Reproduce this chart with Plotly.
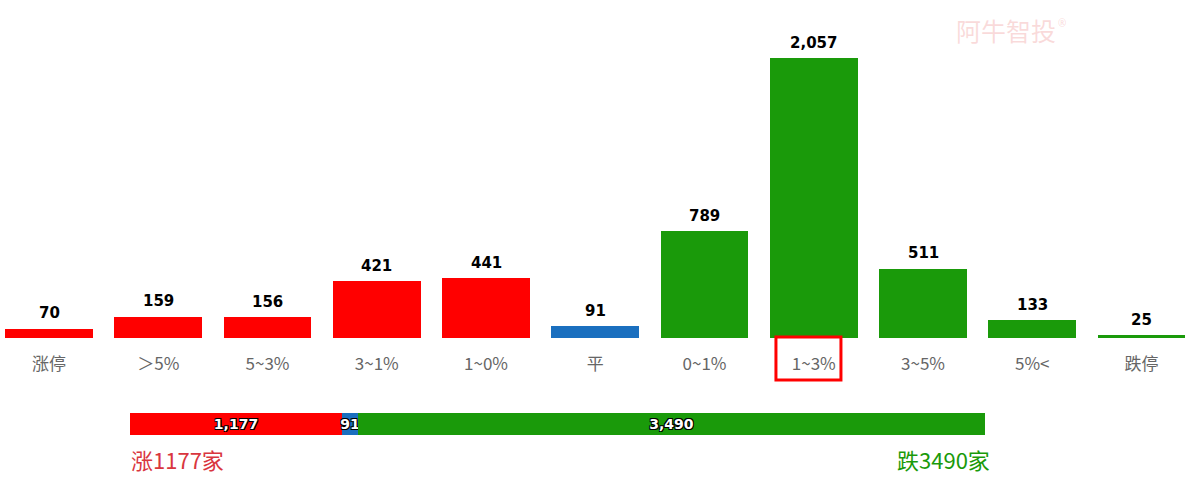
import plotly.graph_objects as go

categories = ["涨停", "＞5%", "5~3%", "3~1%", "1~0%", "平", "0~1%", "1~3%", "3~5%", "5%<", "跌停"]
counts = [70, 159, 156, 421, 441, 91, 789, 2057, 511, 133, 25]
bar_colors = ["#ff0000"] * 5 + ["#1a6fbf"] + ["#1a9a0a"] * 5

summary_names = ["涨", "平", "跌"]
summary_values = [1177, 91, 3490]
summary_colors = ["#ff0000", "#1a6fbf", "#1a9a0a"]

up_text = "涨1177家"
down_text = "跌3490家"
highlight_index = 7

W, H = 1187, 477
px_per_cat = 109.25
x0 = -49 / px_per_cat
x1 = x0 + W / px_per_cat

fig = go.Figure()
fig.add_trace(go.Bar(
    x=list(range(len(categories))), y=counts, marker_color=bar_colors,
    marker_line_width=0, width=0.805, xaxis="x", yaxis="y", showlegend=False,
    hoverinfo="skip",
))

outline = "-1px -1px 0 #000, 1px -1px 0 #000, -1px 1px 0 #000, 1px 1px 0 #000"
total = sum(summary_values)
for name, v, c in zip(summary_names, summary_values, summary_colors):
    fig.add_trace(go.Bar(
        x=[v], y=[0], orientation="h", marker_color=c, marker_line_width=0,
        xaxis="x2", yaxis="y2", showlegend=False, width=1,
        text=[f"{v:,}"], textposition="inside", insidetextanchor="middle",
        textangle=0, constraintext="none",
        textfont=dict(family="DejaVu Sans", size=14, color="white", weight="bold", shadow=outline),
        hoverinfo="skip", name=name,
    ))

for i, v in enumerate(counts):
    fig.add_annotation(
        x=i, y=v, xref="x", yref="y", text=f"<b>{v:,}</b>", showarrow=False,
        yanchor="bottom", yshift=4,
        font=dict(family="DejaVu Sans", size=15, color="#000"),
    )

base_y = 1 - 338 / H
top_y = 1 - 38.5 / H

fig.add_shape(
    type="rect", xref="x", yref="paper",
    x0=highlight_index - 0.346, x1=highlight_index + 0.249,
    y0=1 - 380 / H, y1=1 - 337 / H,
    line=dict(color="#ff0000", width=3), fillcolor="rgba(0,0,0,0)",
)

fig.add_annotation(x=129 / W, y=0, xref="paper", yref="paper",
                   text=up_text, showarrow=False, xanchor="left", yanchor="bottom",
                   font=dict(family="Noto Sans CJK SC", size=22, color="#d9363e"))
fig.add_annotation(x=992 / W, y=0, xref="paper", yref="paper",
                   text=down_text, showarrow=False, xanchor="right", yanchor="bottom",
                   font=dict(family="Noto Sans CJK SC", size=22, color="#1a9a0a"))

# watermark
fig.add_annotation(x=1006 / W, y=1 - 30 / H, xref="paper", yref="paper",
                   text="阿牛智投", showarrow=False, xanchor="center", yanchor="middle",
                   font=dict(family="Noto Sans CJK SC", size=25, color="rgba(240,150,150,0.35)"))
fig.add_annotation(x=1068 / W, y=1 - 14 / H, xref="paper", yref="paper",
                   text="®", showarrow=False,
                   font=dict(family="Noto Sans", size=10, color="rgba(240,150,150,0.35)"))

fig.update_layout(
    width=W, height=H, margin=dict(l=0, r=0, t=0, b=0),
    paper_bgcolor="white", plot_bgcolor="white", barmode="stack", bargap=0,
    xaxis=dict(domain=[0, 1], range=[x0, x1], tickmode="array",
               tickvals=list(range(len(categories))), ticktext=categories,
               showgrid=False, zeroline=False, showline=False,
               ticks="outside", ticklen=11, tickcolor="rgba(0,0,0,0)",
               tickfont=dict(family="Noto Sans CJK SC", size=17, color="#666"),
               anchor="y", fixedrange=True),
    yaxis=dict(domain=[base_y, top_y], range=[0, 2200], visible=False, fixedrange=True),
    xaxis2=dict(domain=[130 / W, 985 / W], range=[0, total], visible=False, anchor="y2"),
    yaxis2=dict(domain=[1 - 435 / H, 1 - 413 / H], range=[-0.5, 0.5], visible=False, anchor="x2"),
)

fig.write_html("out.html")
